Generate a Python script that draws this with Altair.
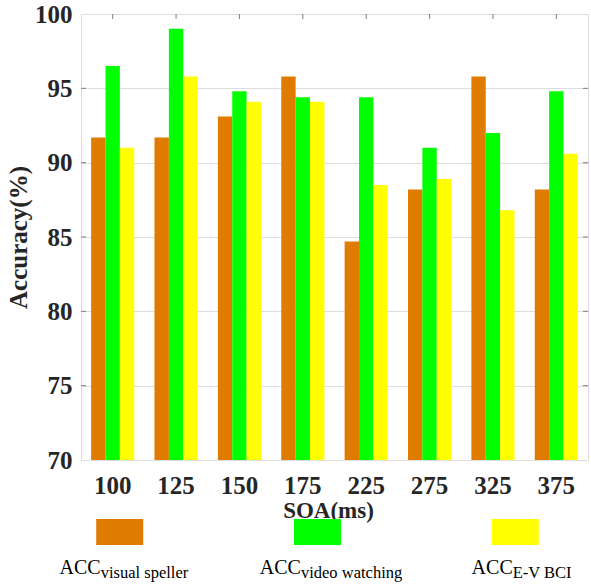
import altair as alt
import pandas as pd

soa = ["100", "125", "150", "175", "225", "275", "325", "375"]
series = ["visual speller", "video watching", "E-V BCI"]
acc_visual = [91.7, 91.7, 93.1, 95.8, 84.7, 88.2, 95.8, 88.2]
acc_video = [96.5, 99.0, 94.8, 94.4, 94.4, 91.0, 92.0, 94.8]
acc_ev = [91.0, 95.8, 94.1, 94.1, 88.5, 88.9, 86.8, 90.6]
y_ticks = [70, 75, 80, 85, 90, 95, 100]
colors = ["#DF7C00", "#00FF00", "#FFFF00"]

rows = []
for i, s in enumerate(soa):
    for name, vals in zip(series, [acc_visual, acc_video, acc_ev]):
        rows.append({"SOA": s, "series": name, "acc": vals[i]})
df = pd.DataFrame(rows)

W, H = 507, 446
FONT = "Liberation Serif"
TXT = "#262626"

xscale = alt.Scale(domain=soa, paddingInner=0.32, paddingOuter=0.16)
yscale = alt.Scale(domain=[70, 100], nice=False, zero=False)

xaxis = alt.Axis(title="SOA(ms)", labelAngle=0, ticks=False, tickSize=0, domain=False,
                 labelBaseline="alphabetic", labelPadding=33,
                 titleX=247, titleY=57, titleBaseline="alphabetic", titleAlign="center",
                 labelFont=FONT, labelFontWeight="bold", labelFontSize=25, labelColor=TXT,
                 titleFont=FONT, titleFontWeight="bold", titleFontSize=23, titleColor=TXT)
yaxis = alt.Axis(title="Accuracy(%)", values=y_ticks, ticks=False, tickSize=0, domain=False,
                 labelPadding=9, titlePadding=3,
                 labelFont=FONT, labelFontWeight="bold", labelFontSize=25, labelColor=TXT,
                 titleFont=FONT, titleFontWeight="bold", titleFontSize=25, titleColor=TXT)

bars = alt.Chart(df).mark_bar(clip=True).encode(
    x=alt.X("SOA:N", scale=xscale, sort=soa, axis=xaxis),
    xOffset=alt.XOffset("series:N", sort=series,
                        scale=alt.Scale(domain=series, paddingInner=0, paddingOuter=0)),
    y=alt.Y("acc:Q", scale=yscale, axis=yaxis),
    color=alt.Color("series:N", scale=alt.Scale(domain=series, range=colors), legend=None),
)

tick_df = pd.DataFrame({"acc": y_ticks[1:-1]})
left_ticks = alt.Chart(tick_df).mark_rule(color="#7f7f7f").encode(
    y=alt.Y("acc:Q", scale=yscale, axis=yaxis), x=alt.value(0), x2=alt.value(5))
right_ticks = alt.Chart(tick_df).mark_rule(color="#7f7f7f").encode(
    y=alt.Y("acc:Q", scale=yscale, axis=yaxis), x=alt.value(W - 5), x2=alt.value(W))
top_ticks = alt.Chart(pd.DataFrame({"SOA": soa})).mark_rule(color="#7f7f7f").encode(
    x=alt.X("SOA:N", scale=xscale, sort=soa, axis=None), y=alt.value(0), y2=alt.value(5))

leg_df = pd.DataFrame({"series": series, "idx": [0, 1, 2]})
leg_x = alt.Scale(domain=[-0.1957, 2.368], nice=False, zero=False)
leg_rect = alt.Chart(leg_df).transform_calculate(
    a="datum.idx - 0.1188", b="datum.idx + 0.1188"
).mark_rect().encode(
    x=alt.X("a:Q", scale=leg_x, axis=None), x2="b:Q",
    y=alt.value(505), y2=alt.value(531),
    color=alt.Color("series:N", scale=alt.Scale(domain=series, range=colors), legend=None),
)

leg_layers = [leg_rect]
dxs = [-19, -16.5, -2.5]
for name, dx in zip(series, dxs):
    base = alt.Chart(leg_df).transform_filter(alt.datum.series == name)
    leg_layers.append(base.mark_text(align="right", baseline="alphabetic", font=FONT,
                                     fontSize=20, color="#000000", dx=dx).encode(
        x=alt.X("idx:Q", scale=leg_x, axis=None), y=alt.value(559.5), text=alt.value("ACC")))
    leg_layers.append(base.mark_text(align="left", baseline="alphabetic", font=FONT,
                                     fontSize=16.5, color="#000000", dx=dx).encode(
        x=alt.X("idx:Q", scale=leg_x, axis=None), y=alt.value(564), text="series:N"))

chart = alt.layer(bars, left_ticks, right_ticks, top_ticks, *leg_layers).resolve_scale(
    x="independent"
).resolve_axis(x="independent").properties(
    width=W, height=H,
    autosize=alt.AutoSizeParams(type="none"),
    padding={"left": 81, "top": 14, "right": 3, "bottom": 124},
).configure_view(stroke="#7f7f7f", strokeWidth=1).configure_axis(grid=False
).configure(background="white")

chart.save("out.html", embed_options={"renderer": "svg", "actions": False})
